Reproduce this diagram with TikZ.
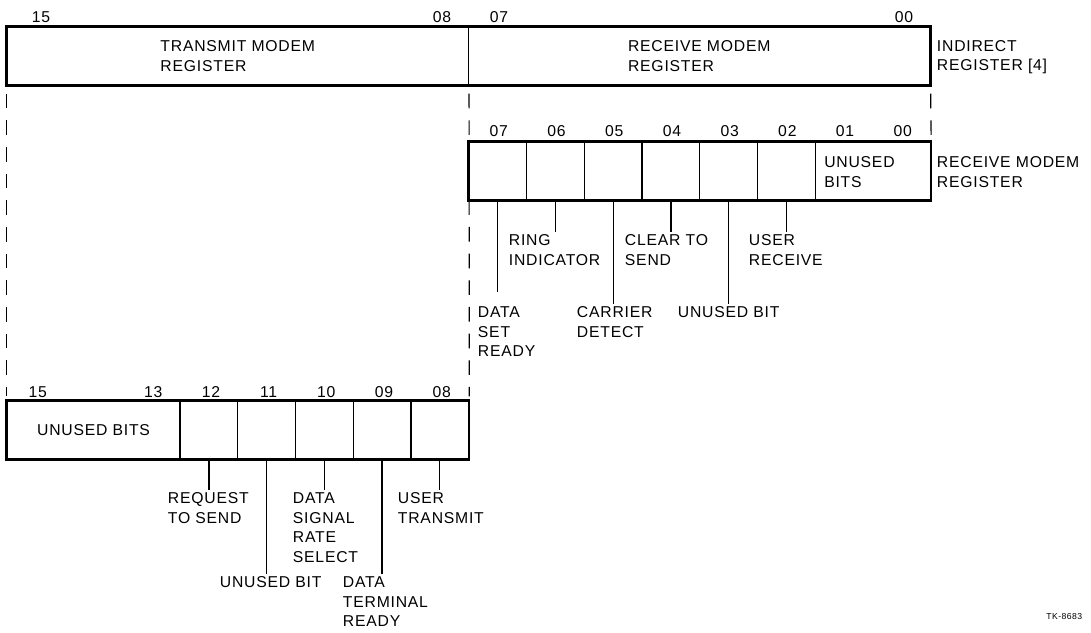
\documentclass[tikz,border=0pt]{standalone}
\usepackage{fontspec}
\setmainfont[LetterSpace=5]{Liberation Sans}

\begin{document}
\begin{tikzpicture}[x=0.75pt, y=-0.75pt,
    every node/.style={font=\fontsize{11.8}{14.6}\selectfont},
    cell/.style={draw, line width=0.9pt, minimum width=43.3pt, minimum height=43.5pt, inner sep=0pt, align=left},
    frame/.style={line width=1.7pt},
    bitno/.style={inner sep=1pt},
    lbl/.style={align=left, anchor=north west, inner sep=2pt},
    lead/.style={line width=0.9pt},
    guide/.style={line width=0.9pt, dash pattern=on 11pt off 9pt, shorten <=6pt, shorten >=3pt}]
    \useasboundingbox (0,0) rectangle (1091,632);

    \node[cell, minimum width=346.1pt] (tmr) at (237.75,56) {TRANSMIT MODEM\\REGISTER};
    \node[cell, minimum width=346.1pt] (rmr) at (699.25,56) {RECEIVE MODEM\\REGISTER};
    \draw[frame] (tmr.north west) rectangle (rmr.south east);
    \node[bitno] (tn15) at (41,17) {15};
    \node[bitno] (tn08) at (442,17) {08};
    \node[bitno] (tn07) at (499,17) {07};
    \node[bitno] (tn00) at (904,17) {00};
    \node[lbl, anchor=west] (ind) at (934,57) {INDIRECT\\REGISTER [4]};

    \foreach \b in {7,...,2}
        \node[cell] (r\b) at ({469+(7.5-\b)*57.7},171) {};
    \node[cell, minimum width=86.55pt] (r10) at (872.9,171) {};
    \node[inner sep=0pt, align=left, anchor=west] (rub2) at (824,172) {UNUSED\\BITS};
    \draw[frame] (r7.north west) rectangle (r10.south east);
    \foreach \b in {7,...,0}
        \node[bitno] (rn\b) at ({469+(7.5-\b)*57.7+1},131) {0\b};
    \node[lbl, anchor=west] (rxname) at (934,172) {RECEIVE MODEM\\REGISTER};

    \foreach \b in {12,...,8}
        \node[cell] (b\b) at ({7+(15.5-\b)*57.7},430) {};
    \node[cell, minimum width=129.8pt, align=center] (b15) at (93.55,430) {UNUSED BITS};
    \draw[frame] (b15.north west) rectangle (b8.south east);
    \foreach \b/\t in {15/15,13/13,12/12,11/11,10/10,9/09,8/08}
        \node[bitno] (bn\b) at ({7+(15.5-\b)*57.7+2},392) {\t};

    \draw[guide] (tmr.south west) -- (b15.north west);
    \draw[guide] (tmr.south east) -- (b8.north east);
    \draw[guide] (rmr.south east) -- (r10.north east);

    \node[lbl] (ri) at (506,232) {RING\\INDICATOR};
    \node[lbl] (cts) at (622,232) {CLEAR TO\\SEND};
    \node[lbl] (urx) at (746,232) {USER\\RECEIVE};
    \node[lbl] (dsr) at (475,304) {DATA\\SET\\READY};
    \node[lbl] (cd) at (574,304) {CARRIER\\DETECT};
    \node[lbl] (rub) at (675,304) {UNUSED BIT};

    \draw[lead, shorten >=9pt] (r7.south) -- (r7.south |- dsr.north);
    \draw[lead] (r6.south) -- (r6.south |- ri.north);
    \draw[lead] (r5.south) -- (r5.south |- cd.north);
    \draw[lead] (r4.south) -- (r4.south |- cts.north);
    \draw[lead] (r3.south) -- (r3.south |- rub.north);
    \draw[lead] (r2.south) -- (r2.south |- urx.north);

    \node[lbl] (rts) at (165,490) {REQUEST\\TO SEND};
    \node[lbl] (dsrs) at (290,490) {DATA\\SIGNAL\\RATE\\SELECT};
    \node[lbl] (utx) at (395,490) {USER\\TRANSMIT};
    \node[lbl] (tub) at (217,574) {UNUSED BIT};
    \node[lbl] (dtr) at (340,574) {DATA\\TERMINAL\\READY};

    \draw[lead] (b12.south) -- (b12.south |- rts.north);
    \draw[lead] (b11.south) -- (b11.south |- tub.north);
    \draw[lead] (b10.south) -- (b10.south |- dsrs.north);
    \draw[lead] (b9.south) -- (b9.south |- dtr.north);
    \draw[lead] (b8.south) -- (b8.south |- utx.north);

    \node[font=\fontsize{6.5}{8}\selectfont, anchor=east] (tk) at (1087,617) {TK-8683};
\end{tikzpicture}
\end{document}
